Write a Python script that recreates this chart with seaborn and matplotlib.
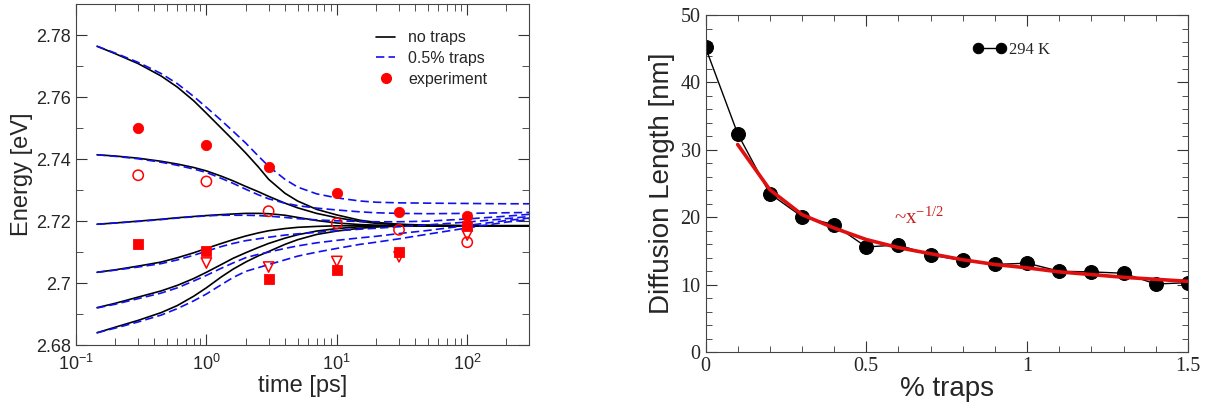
import matplotlib
matplotlib.use('Agg')
import matplotlib.pyplot as plt
import matplotlib.ticker as mticker
import seaborn as sns

sns.set_style('ticks')
plt.rcParams['font.family'] = ['Liberation Sans', 'DejaVu Sans']
plt.rcParams['mathtext.default'] = 'regular'

# left panel: relaxation of emission energy
t_curve = [0.145, 0.2, 0.3, 0.45, 0.6, 0.8, 1, 1.3, 1.6, 2, 2.5, 3, 4, 5, 7, 10, 15, 20, 30, 50, 100, 200, 300]

no_traps = [
    [2.7764, 2.7740, 2.7708, 2.7668, 2.7632, 2.7588, 2.7548, 2.7500, 2.7462, 2.7420, 2.7375, 2.7335, 2.7290, 2.7265, 2.7238, 2.7220, 2.7203, 2.7196, 2.7190, 2.7187, 2.7185, 2.7185, 2.7185],
    [2.7414, 2.7410, 2.7403, 2.7393, 2.7384, 2.7373, 2.7362, 2.7345, 2.7330, 2.7312, 2.7295, 2.7280, 2.7258, 2.7243, 2.7225, 2.7211, 2.7199, 2.7193, 2.7189, 2.7186, 2.7185, 2.7185, 2.7185],
    [2.7190, 2.7194, 2.7200, 2.7206, 2.7211, 2.7215, 2.7218, 2.7221, 2.7223, 2.7225, 2.7225, 2.7224, 2.7219, 2.7212, 2.7202, 2.7194, 2.7189, 2.7187, 2.7186, 2.7185, 2.7185, 2.7185, 2.7185],
    [2.7035, 2.7043, 2.7055, 2.7068, 2.7082, 2.7098, 2.7112, 2.7128, 2.7140, 2.7152, 2.7162, 2.7169, 2.7176, 2.7180, 2.7183, 2.7185, 2.7185, 2.7185, 2.7185, 2.7185, 2.7185, 2.7185, 2.7185],
    [2.6921, 2.6935, 2.6955, 2.6975, 2.6993, 2.7015, 2.7035, 2.7060, 2.7080, 2.7098, 2.7115, 2.7128, 2.7145, 2.7156, 2.7168, 2.7176, 2.7182, 2.7184, 2.7185, 2.7185, 2.7185, 2.7185, 2.7185],
    [2.6840, 2.6858, 2.6880, 2.6905, 2.6928, 2.6958, 2.6985, 2.7020, 2.7045, 2.7068, 2.7088, 2.7102, 2.7125, 2.7140, 2.7157, 2.7168, 2.7177, 2.7181, 2.7184, 2.7185, 2.7185, 2.7185, 2.7185],
]

half_traps = [
    [2.7764, 2.7742, 2.7712, 2.7676, 2.7643, 2.7602, 2.7567, 2.7525, 2.7490, 2.7452, 2.7410, 2.7377, 2.7335, 2.7310, 2.7288, 2.7275, 2.7265, 2.7261, 2.7259, 2.7258, 2.7257, 2.7256, 2.7256],
    [2.7414, 2.7409, 2.7401, 2.7390, 2.7380, 2.7368, 2.7357, 2.7338, 2.7322, 2.7303, 2.7285, 2.7272, 2.7258, 2.7250, 2.7242, 2.7236, 2.7230, 2.7227, 2.7225, 2.7224, 2.7225, 2.7227, 2.7228],
    [2.7190, 2.7194, 2.7199, 2.7205, 2.7210, 2.7214, 2.7217, 2.7219, 2.7219, 2.7219, 2.7218, 2.7216, 2.7212, 2.7208, 2.7204, 2.7201, 2.7199, 2.7198, 2.7198, 2.7200, 2.7207, 2.7216, 2.7222],
    [2.7035, 2.7042, 2.7052, 2.7063, 2.7075, 2.7090, 2.7103, 2.7118, 2.7128, 2.7137, 2.7143, 2.7148, 2.7155, 2.7159, 2.7164, 2.7169, 2.7174, 2.7177, 2.7182, 2.7188, 2.7197, 2.7208, 2.7215],
    [2.6920, 2.6932, 2.6950, 2.6968, 2.6985, 2.7007, 2.7025, 2.7048, 2.7065, 2.7082, 2.7093, 2.7100, 2.7112, 2.7120, 2.7130, 2.7138, 2.7146, 2.7151, 2.7160, 2.7170, 2.7186, 2.7202, 2.7210],
    [2.6840, 2.6855, 2.6875, 2.6897, 2.6918, 2.6943, 2.6965, 2.6995, 2.7018, 2.7038, 2.7050, 2.7060, 2.7075, 2.7087, 2.7100, 2.7112, 2.7125, 2.7132, 2.7143, 2.7158, 2.7178, 2.7197, 2.7205],
]

t_exp = [0.3, 1, 3, 10, 30, 100]
exp_filled_circle = [2.7500, 2.7445, 2.7375, 2.7290, 2.7228, 2.7215]
exp_open_circle = [2.7348, 2.7328, 2.7232, 2.7193, 2.7172, 2.7132]
exp_filled_square = [2.7125, 2.7105, 2.7015, 2.7043, 2.7100, 2.7183]
t_exp_tri = [1, 3, 10, 30, 100]
exp_open_triangle = [2.7065, 2.7052, 2.7070, 2.7085, 2.7155]

# right panel: diffusion length vs trap concentration
traps = [0.0, 0.1, 0.2, 0.3, 0.4, 0.5, 0.6, 0.7, 0.8, 0.9, 1.0, 1.1, 1.2, 1.3, 1.4, 1.5]
diff_len = [45.2, 32.4, 23.5, 20.1, 18.9, 15.6, 15.9, 14.4, 13.6, 13.0, 13.2, 12.0, 11.9, 11.7, 10.1, 10.3]
fit_x = [0.1, 0.2, 0.3, 0.4, 0.5, 0.6, 0.7, 0.8, 0.9, 1.0, 1.1, 1.2, 1.3, 1.4, 1.5]
fit_y = [30.8, 24.1, 20.4, 18.4, 16.7, 15.5, 14.6, 13.7, 13.0, 12.5, 11.9, 11.5, 11.1, 10.8, 10.5]

fig = plt.figure(figsize=(12.06, 4.08), dpi=100)
ax1 = fig.add_axes([0.063, 0.154, 0.376, 0.836])
ax2 = fig.add_axes([0.585, 0.137, 0.400, 0.826])

red = '#ff0000'
blue = '#1010ee'

for e in no_traps:
    sns.lineplot(x=t_curve, y=e, ax=ax1, color='k', lw=1.2, estimator=None, sort=False)
for e in half_traps:
    sns.lineplot(x=t_curve, y=e, ax=ax1, color=blue, lw=1.2, estimator=None, sort=False,
                 linestyle=(0, (5, 2.5)))

sns.scatterplot(x=t_exp, y=exp_filled_circle, ax=ax1, marker='o', s=55, color=red, edgecolor=red, zorder=5)
ax1.scatter(t_exp, exp_open_circle, marker='o', s=55, facecolors='none', edgecolors=red, linewidths=1.1, zorder=5)
sns.scatterplot(x=t_exp, y=exp_filled_square, ax=ax1, marker='s', s=55, color=red, edgecolor=red, zorder=5)
ax1.scatter(t_exp_tri, exp_open_triangle, marker='v', s=55, facecolors='none', edgecolors=red, linewidths=1.1, zorder=5)

ax1.set_xscale('log')
ax1.set_xlim(0.1, 300)
ax1.set_ylim(2.68, 2.79)
ax1.yaxis.set_major_locator(mticker.MultipleLocator(0.02))
ax1.yaxis.set_minor_locator(mticker.MultipleLocator(0.01))
ax1.yaxis.set_major_formatter(mticker.FuncFormatter(lambda v, p: '%g' % round(v, 3)))
ax1.xaxis.set_major_locator(mticker.LogLocator(base=10, numticks=10))
ax1.xaxis.set_minor_locator(mticker.LogLocator(base=10, subs=range(2, 10), numticks=20))
ax1.xaxis.set_minor_formatter(mticker.NullFormatter())
ax1.tick_params(which='both', direction='in', top=True, right=True, labelsize=13, color='#333333')
ax1.tick_params(which='major', length=8)
ax1.tick_params(which='minor', length=5)
ax1.tick_params(axis='x', which='major', pad=6)
ax1.set_xlabel('time [ps]', fontsize=17, labelpad=1)
ax1.set_ylabel('Energy [eV]', fontsize=17, labelpad=2)

h1 = plt.Line2D([], [], color='k', lw=1.2)
h2 = plt.Line2D([], [], color=blue, lw=1.2, linestyle=(0, (5, 2.5)))
h3 = plt.Line2D([], [], color=red, marker='o', markersize=7, linestyle='none')
ax1.legend([h1, h2, h3], ['no traps', '0.5% traps', 'experiment'], loc='upper left',
           bbox_to_anchor=(0.63, 0.965), frameon=False, fontsize=11.5, handlelength=1.2,
           handletextpad=0.8, labelspacing=0.35)

for sp in ax1.spines.values():
    sp.set_color('#444444')

# right panel
sns.lineplot(x=traps, y=diff_len, ax=ax2, color='k', lw=1, marker='o', markersize=10,
             markeredgecolor='k', estimator=None, sort=False, label='294 K')
sns.lineplot(x=fit_x, y=fit_y, ax=ax2, color='#e01010', lw=2.6, estimator=None, sort=False)

ax2.set_xlim(0, 1.5)
ax2.set_ylim(0, 50)
ax2.xaxis.set_major_locator(mticker.MultipleLocator(0.5))
ax2.xaxis.set_minor_locator(mticker.MultipleLocator(0.1))
ax2.yaxis.set_major_locator(mticker.MultipleLocator(10))
ax2.yaxis.set_minor_locator(mticker.MultipleLocator(2))
ax2.xaxis.set_major_formatter(mticker.FuncFormatter(lambda v, p: '%g' % v))
ax2.yaxis.set_major_formatter(mticker.FuncFormatter(lambda v, p: '%g' % v))
ax2.tick_params(which='both', direction='in', top=True, right=True, labelsize=14.5, color='#333333')
ax2.tick_params(which='major', length=8)
ax2.tick_params(which='minor', length=4)
for lab in ax2.get_xticklabels() + ax2.get_yticklabels():
    lab.set_fontfamily(['Liberation Serif', 'DejaVu Serif'])
ax2.set_xlabel('% traps', fontsize=20, labelpad=0)
ax2.set_ylabel('Diffusion Length [nm]', fontsize=20, labelpad=4)
for sp in ax2.spines.values():
    sp.set_color('#444444')

ax2.legend(loc='center left', bbox_to_anchor=(0.54, 0.896), frameon=False, numpoints=2,
           handlelength=2.0, handletextpad=0.2, borderaxespad=0, markerscale=0.75,
           prop={'family': 'Liberation Serif', 'size': 12})

ax2.text(0.585, 19.0, r'~x$^{-1/2}$', color='#cc2020', fontsize=15,
         family=['Liberation Serif', 'DejaVu Serif'])

fig.savefig('out.png', dpi=100)
